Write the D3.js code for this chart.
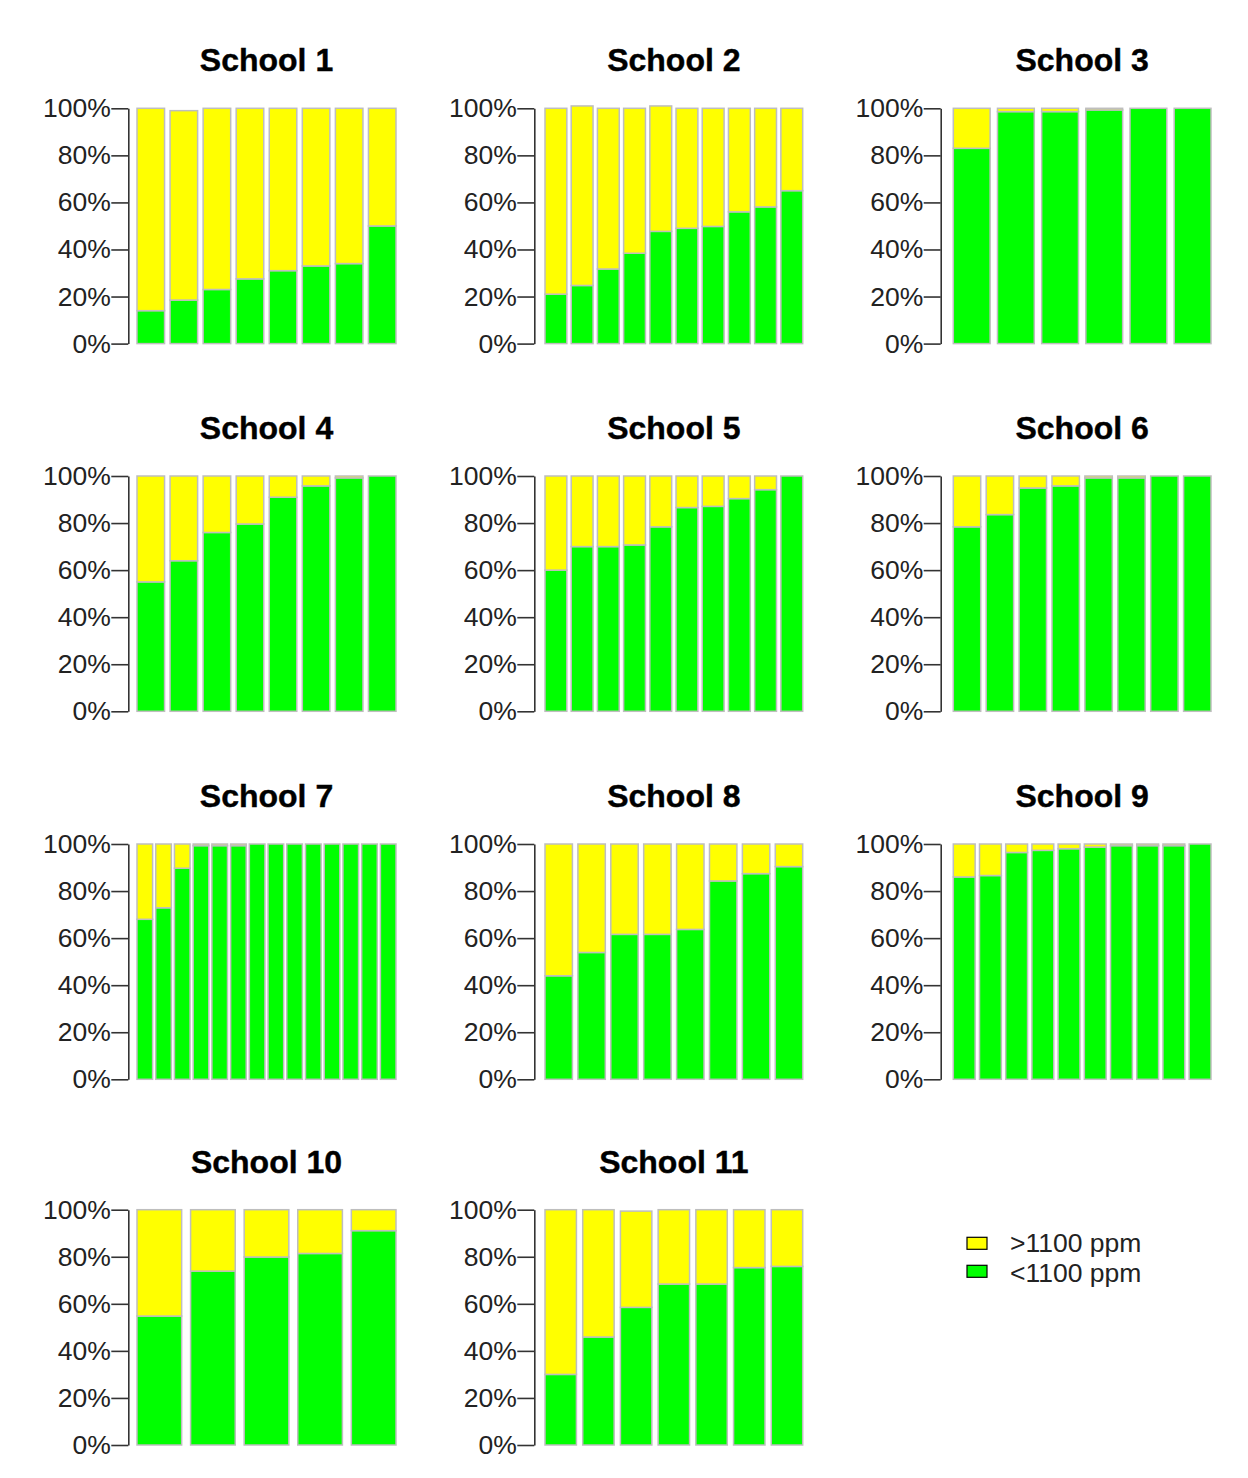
<!DOCTYPE html>
<html>
<head>
<meta charset="utf-8">
<script src="https://cdn.jsdelivr.net/npm/d3@7"></script>
<style>
  body { margin: 0; background: #fff; }
  svg { display: block; font-family: "Liberation Sans", Arial, sans-serif; }
</style>
</head>
<body>
<svg id="chart" width="1248" height="1478"></svg>
<script>
// ---- Data (percent of time per room) ----
const schools = ["School 1","School 2","School 3","School 4","School 5","School 6",
                 "School 7","School 8","School 9","School 10","School 11"];
// share of time below 1100 ppm (green)
const below1100 = [
  [14, 18.5, 23, 27.5, 31, 33, 34, 50],
  [21, 24.7, 31.7, 38.4, 47.7, 49, 49.8, 56, 58.1, 65],
  [83, 98.6, 98.6, 99.3, 100, 100],
  [55, 64, 76, 79.6, 91, 95.8, 99.2, 100],
  [60, 70, 70, 70.7, 78.4, 86.6, 87.1, 90.4, 94.2, 100],
  [78.4, 83.6, 94.9, 95.8, 99.2, 99.2, 100, 100],
  [68, 72.9, 89.7, 99.3, 99.3, 99.3, 100, 100, 100, 100, 100, 100, 100, 100],
  [44, 53.9, 61.6, 61.6, 63.7, 84.3, 87.4, 90.4],
  [86, 86.6, 96.4, 97.3, 98, 98.7, 99.3, 99.3, 99.3, 100],
  [54.8, 73.9, 79.9, 81.4, 91.1],
  [30, 45.9, 58.5, 68.4, 68.4, 75.4, 75.9]
];
// share of time above 1100 ppm (yellow)
const above1100 = [
  [86, 80.5, 77, 72.5, 69, 67, 66, 50],
  [79, 76.3, 68.3, 61.6, 53.3, 51, 50.2, 44, 41.9, 35],
  [17, 1.4, 1.4, 0.7, 0, 0],
  [45, 36, 24, 20.4, 9, 4.2, 0.8, 0],
  [40, 30, 30, 29.3, 21.6, 13.4, 12.9, 9.6, 5.8, 0],
  [21.6, 16.4, 5.1, 4.2, 0.8, 0.8, 0, 0],
  [32, 27.1, 10.3, 0.7, 0.7, 0.7, 0, 0, 0, 0, 0, 0, 0, 0],
  [56, 46.1, 38.4, 38.4, 36.3, 15.7, 12.6, 9.6],
  [14, 13.4, 3.6, 2.7, 2, 1.3, 0.7, 0.7, 0.7, 0],
  [45.2, 26.1, 20.1, 18.6, 8.9],
  [70, 54.1, 40.9, 31.6, 31.6, 24.6, 24.1]
];
const yTicks = [0, 20, 40, 60, 80, 100];
const legendLabels = [">1100 ppm", "<1100 ppm"];
const colors = { above: "#ffff00", below: "#00ff00" };

// ---- Layout ----
const svg = d3.select("#chart");
svg.append("rect").attr("width", 1248).attr("height", 1478).attr("fill", "#fff");

const colAxisX = [128.3, 534.3, 940.7];
const colBarsL = [137, 545, 953.3];
const colBarsR = [396, 802.7, 1211];
const rowTop = [108.3, 476, 844, 1209.7];
const plotH = 235.3;

schools.forEach((name, i) => {
  const r = Math.floor(i / 3), c = i % 3;
  const ax = colAxisX[c];
  const top = rowTop[r], bottom = top + plotH;
  const n = below1100[i].length;

  const x = d3.scaleBand()
    .domain(d3.range(n))
    .range([colBarsL[c], colBarsR[c]])
    .paddingInner(1 / 6)
    .paddingOuter(0);
  const y = d3.scaleLinear().domain([0, 100]).range([bottom, top]);

  const g = svg.append("g");

  // title
  g.append("text")
    .attr("x", (colBarsL[c] + colBarsR[c]) / 2)
    .attr("y", top - 37)
    .attr("text-anchor", "middle")
    .attr("font-size", 32)
    .attr("font-weight", "bold")
    .attr("fill", "#000")
    .attr("stroke", "#000")
    .attr("stroke-width", 0.4)
    .text(name);

  // bars
  const rows = d3.range(n).map(k => ({ k, lo: below1100[i][k], hi: above1100[i][k] }));
  g.selectAll(".lo").data(rows).enter().append("rect")
    .attr("x", d => x(d.k))
    .attr("width", x.bandwidth())
    .attr("y", d => y(d.lo))
    .attr("height", d => y(0) - y(d.lo))
    .attr("fill", colors.below)
    .attr("stroke", "#bebebe")
    .attr("stroke-width", 1.5);
  g.selectAll(".hi").data(rows.filter(d => d.hi > 0)).enter().append("rect")
    .attr("x", d => x(d.k))
    .attr("width", x.bandwidth())
    .attr("y", d => y(d.lo + d.hi))
    .attr("height", d => y(d.lo) - y(d.lo + d.hi))
    .attr("fill", colors.above)
    .attr("stroke", "#bebebe")
    .attr("stroke-width", 1.5);

  // y axis
  const axis = d3.axisLeft(y)
    .tickValues(yTicks)
    .tickSize(17)
    .tickSizeOuter(0)
    .tickPadding(0.5)
    .tickFormat(d => d + "%");
  const ag = g.append("g").attr("transform", `translate(${ax},0)`).call(axis);
  ag.select(".domain").attr("stroke", "#333").attr("stroke-width", 1.6);
  ag.selectAll(".tick line").attr("stroke", "#333").attr("stroke-width", 1.6);
  ag.selectAll(".tick text")
    .attr("font-size", 26.5)
    .attr("fill", "#222")
    .attr("font-family", "'Liberation Sans', Arial, sans-serif");
});

// ---- Legend ----
const legend = svg.append("g");
const legendY = [1237.3, 1265.3];
const legendTextY = [1251.5, 1282];
[colors.above, colors.below].forEach((col, k) => {
  legend.append("rect")
    .attr("x", 967).attr("y", legendY[k])
    .attr("width", 20).attr("height", 12)
    .attr("fill", col).attr("stroke", "#000").attr("stroke-width", 1.2);
  legend.append("text")
    .attr("x", 1010).attr("y", legendTextY[k])
    .attr("font-size", 26.5)
    .attr("fill", "#222")
    .text(legendLabels[k]);
});
</script>
</body>
</html>
